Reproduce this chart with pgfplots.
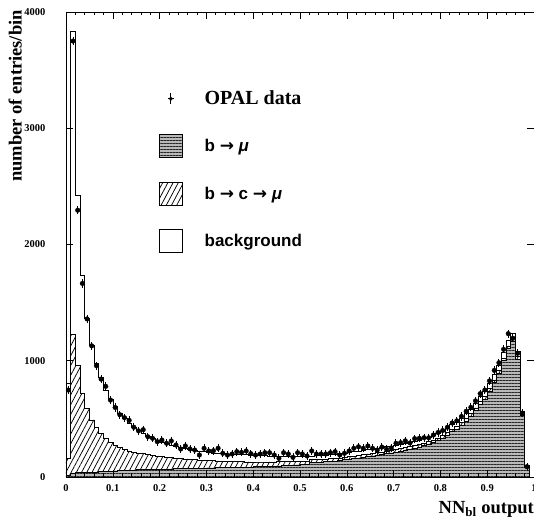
\documentclass[border=0pt]{standalone}
\usepackage{fontspec}
\setmainfont{Liberation Serif}
\setsansfont{Liberation Sans}
\newfontfamily\arrowfont{DejaVu Sans}
\usepackage{pgfplots}
\pgfplotsset{compat=1.18}
\usepackage{pgfplotstable}
\usetikzlibrary{patterns.meta}

\newcommand{\arr}{{\arrowfont\bfseries →}}

\pgfplotsset{
  sqlegend/.style={legend image code/.code={\draw[##1] (0pt,-11.5pt) rectangle (23pt,11.5pt);}},
  datalegend/.style={legend image code/.code={%
    \path[draw=none,fill=none] (0pt,-11.5pt) rectangle (23pt,11.5pt);
    \draw[black,line width=0.9pt] (11.5pt,-5.5pt)--(11.5pt,5.5pt) (8.5pt,0pt)--(14.5pt,0pt);
    \fill[black] (11.5pt,0pt) circle (1.8pt);}},
}

\pgfplotstableread{
x T BC B
0.00 810 160 15
0.01 3835 1230 35
0.02 2425 960 40
0.03 1737 720 40
0.04 1367 595 40
0.05 1135 492 42
0.06 975 425 44
0.07 860 372 46
0.08 745 330 48
0.09 670 298 50
0.10 605 272 52
0.11 550 252 54
0.12 505 236 56
0.13 465 224 58
0.14 430 214 60
0.15 400 206 62
0.16 375 200 64
0.17 352 193 65
0.18 332 187 66
0.19 315 181 67
0.20 300 176 68
0.21 287 171 69
0.22 275 167 70
0.23 264 163 71
0.24 254 159 72
0.25 245 156 73
0.26 237 153 74
0.27 230 150 75
0.28 224 147 76
0.29 218 145 77
0.30 213 142 78
0.31 208 140 79
0.32 204 138 80
0.33 201 136 81
0.34 199 134 82
0.35 197 133 83
0.36 195 132 84
0.37 193 131 85
0.38 191 130 86
0.39 189 130 87
0.40 187 129 88
0.41 185 129 89
0.42 183 129 90
0.43 181 130 92
0.44 179 130 94
0.45 177 131 96
0.46 177 131 98
0.47 177 132 100
0.48 178 133 102
0.49 178 134 104
0.50 179 135 106
0.51 180 136 108
0.52 182 150 125
0.53 183 151 127
0.54 185 152 129
0.55 188 154 132
0.56 192 157 135
0.57 197 161 139
0.58 202 165 143
0.59 207 170 148
0.60 212 175 153
0.61 218 180 158
0.62 224 186 164
0.63 230 192 170
0.64 236 198 176
0.65 242 204 182
0.66 248 210 188
0.67 254 216 194
0.68 260 222 200
0.69 267 229 207
0.70 274 236 214
0.71 282 244 222
0.72 290 252 230
0.73 299 261 239
0.74 308 270 248
0.75 318 280 258
0.76 329 291 269
0.77 341 303 281
0.78 355 317 295
0.79 375 337 315
0.80 395 357 335
0.81 420 382 360
0.82 450 412 390
0.83 470 432 410
0.84 505 467 445
0.85 545 505 483
0.86 585 545 523
0.87 635 595 573
0.88 690 648 626
0.89 735 692 670
0.90 805 762 740
0.91 880 836 814
0.92 960 915 893
0.93 1070 1025 1003
0.94 1178 1128 1105
0.95 1238 1190 1165
0.96 1077 1040 1015
0.97 561 545 530
0.98 97 92 85
0.99 0 0 0
1.00 0 0 0
}\hist

\pgfplotstableread{
x d
0.005 748
0.015 3750
0.025 2295
0.035 1665
0.045 1360
0.055 1128
0.065 958
0.075 842
0.085 780
0.095 662
0.105 598
0.115 536
0.125 510
0.135 487
0.145 428
0.155 397
0.165 407
0.175 346
0.185 333
0.195 304
0.205 318
0.215 290
0.225 310
0.235 275
0.245 241
0.255 267
0.265 241
0.275 232
0.285 189
0.295 247
0.305 224
0.315 226
0.325 247
0.335 204
0.345 189
0.355 198
0.365 218
0.375 212
0.385 224
0.395 201
0.405 189
0.415 198
0.425 209
0.435 209
0.445 189
0.455 161
0.465 209
0.475 198
0.485 169
0.495 209
0.505 198
0.515 181
0.525 224
0.535 198
0.545 198
0.555 198
0.565 209
0.575 218
0.585 189
0.595 204
0.605 224
0.615 247
0.625 260
0.635 247
0.645 267
0.655 247
0.665 232
0.675 257
0.685 238
0.695 250
0.705 290
0.715 295
0.725 311
0.735 293
0.745 330
0.755 333
0.765 338
0.775 337
0.785 361
0.795 383
0.805 400
0.815 428
0.825 465
0.835 483
0.845 521
0.855 565
0.865 599
0.875 655
0.885 717
0.895 748
0.905 827
0.915 917
0.925 983
0.935 1098
0.945 1233
0.955 1193
0.965 1064
0.975 550
0.985 89
}\data

\begin{document}
\begin{tikzpicture}
\begin{axis}[
  scale only axis, width=468pt, height=465pt,
  xmin=0, xmax=1, ymin=0, ymax=4000,
  axis on top,
  xtick={0,0.1,0.2,0.3,0.4,0.5,0.6,0.7,0.8,0.9,1},
  minor x tick num=4,
  ytick={0,1000,2000,3000,4000},
  tick align=inside,
  major tick length=7pt, minor tick length=3.5pt,
  every tick/.style={black, line width=0.6pt},
  axis line style={line width=0.8pt},
  /pgf/number format/assume math mode=true,
  /pgf/number format/1000 sep={},
  scaled y ticks=false,
  tick label style={font=\bfseries\fontsize{10.5}{12}\selectfont},
  yticklabel style={xshift=-17pt},
  xticklabel style={yshift=-4pt},
  xlabel={NN\textsubscript{bl} output},
  xlabel style={font=\bfseries\fontsize{18.5}{21}\selectfont, at={(rel axis cs:1,0)}, anchor=north east, yshift=-24pt, inner sep=0pt},
  ylabel={number of entries/bin},
  ylabel style={font=\bfseries\fontsize{18.5}{21}\selectfont, at={(rel axis cs:0,1)}, anchor=south east, yshift=44pt, xshift=2pt, inner sep=0pt},
  reverse legend,
  legend style={at={(rel axis cs:0.192,0.843)}, anchor=north west, draw=none, fill=none,
    row sep=24pt, nodes={inner sep=2pt},
    /tikz/every odd column/.append style={column sep=20pt}},
  legend cell align=left,
]
\addplot[const plot mark left, draw=black, line width=0.6pt, fill=white, sqlegend]
  table[x=x, y=T] {\hist} \closedcycle;
\addlegendentry{\sffamily\bfseries\fontsize{17}{19}\selectfont background}

\addplot[const plot mark left, draw=black, line width=0.6pt, fill=white,
  postaction={pattern={Lines[angle=62,distance=4.6pt,line width=0.75pt]}}, sqlegend]
  table[x=x, y=BC] {\hist} \closedcycle;
\addlegendentry{\sffamily\bfseries\fontsize{17}{19}\selectfont b \arr{} c \arr{} \textit{μ}}

\addplot[const plot mark left, draw=black, line width=0.6pt, fill=gray!55,
  postaction={pattern={Lines[angle=0,distance=3pt,line width=0.7pt]}, pattern color=black!85}, sqlegend]
  table[x=x, y=B] {\hist} \closedcycle;
\addlegendentry{\sffamily\bfseries\fontsize{17}{19}\selectfont b \arr{} \textit{μ}}

\addplot[only marks, mark=*, mark size=2.3pt, black, datalegend,
  error bars/.cd, y dir=both, y fixed=35, error mark=none,
  error bar style={line width=0.9pt}]
  table[x=x, y=d] {\data};
\addlegendentry{\rmfamily\bfseries\fontsize{20}{22}\selectfont OPAL data}
\end{axis}
\pgfresetboundingbox
\path ([shift={(-66pt,-41pt)}]current axis.south west) rectangle ([yshift=12pt]current axis.north east);
\end{tikzpicture}
\end{document}
